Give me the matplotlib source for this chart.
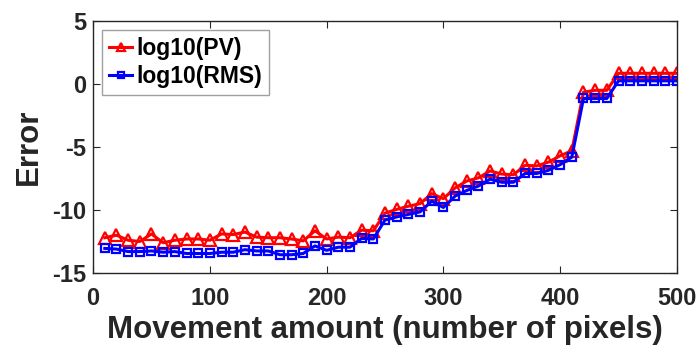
import numpy as np
import matplotlib.pyplot as plt

plt.rcParams['font.family'] = ['Liberation Sans', 'DejaVu Sans']
plt.rcParams['font.weight'] = 'bold'
plt.rcParams['axes.unicode_minus'] = False

shift = np.arange(10, 501, 10)
log_pv = [-12.2, -12.0, -12.4, -12.5, -11.9, -12.6, -12.4, -12.3, -12.3, -12.4,
          -11.9, -11.95, -11.75, -12.15, -12.2, -12.2, -12.3, -12.45, -11.65, -12.3,
          -12.15, -12.2, -11.6, -11.65, -10.25, -9.95, -9.7, -9.5, -8.7, -9.1,
          -8.25, -7.7, -7.45, -6.9, -7.15, -7.2, -6.45, -6.5, -6.2, -5.7,
          -5.3, -0.65, -0.5, -0.5, 0.85, 0.85, 0.85, 0.85, 0.85, 0.85]
log_rms = [-13.05, -13.1, -13.3, -13.3, -13.25, -13.35, -13.3, -13.45, -13.45, -13.45,
           -13.35, -13.35, -13.15, -13.25, -13.25, -13.55, -13.55, -13.45, -12.85, -13.2,
           -12.95, -12.95, -12.25, -12.3, -10.8, -10.55, -10.35, -10.15, -9.3, -9.8,
           -8.9, -8.45, -8.1, -7.55, -7.8, -7.8, -7.1, -7.1, -6.85, -6.4,
           -5.8, -1.15, -1.15, -1.15, 0.25, 0.25, 0.25, 0.25, 0.25, 0.25]

fig = plt.figure(figsize=(7, 3.5), dpi=100)
ax = fig.add_axes([0.133, 0.22, 0.834, 0.72])

ax.plot(shift, log_pv, color='red', lw=2.2, marker='^', ms=8, mfc='none', mew=1.6,
        label='log10(PV)')
ax.plot(shift, log_rms, color='blue', lw=2.2, marker='s', ms=5.5, mfc='none', mew=1.6,
        label='log10(RMS)')

ax.set_xlim(0, 500)
ax.set_ylim(-15, 5)
ax.set_xticks(range(0, 501, 100))
ax.set_yticks(range(-15, 6, 5))
ax.tick_params(direction='in', top=True, right=True, labelsize=17, length=5,
               colors='#262626')
ax.tick_params(axis='x', pad=10)
ax.tick_params(axis='y', pad=5)
for s in ax.spines.values():
    s.set_color('#262626')
    s.set_linewidth(1)

ax.set_xlabel('Movement amount (number of pixels)', fontsize=22.5, fontweight='bold',
              color='#262626', labelpad=4)
ax.set_ylabel('Error', fontsize=22.5, fontweight='bold', color='#262626', labelpad=6)

leg = ax.legend(loc='upper left', fontsize=16.5, handlelength=1.0, handletextpad=0.2,
                borderpad=0.3, labelspacing=0.2, fancybox=False, framealpha=1,
                borderaxespad=0.4, markerscale=0.8)
leg.get_frame().set_edgecolor('#a0a0a0')
leg.get_frame().set_linewidth(1)

fig.savefig('out.png', dpi=100)
